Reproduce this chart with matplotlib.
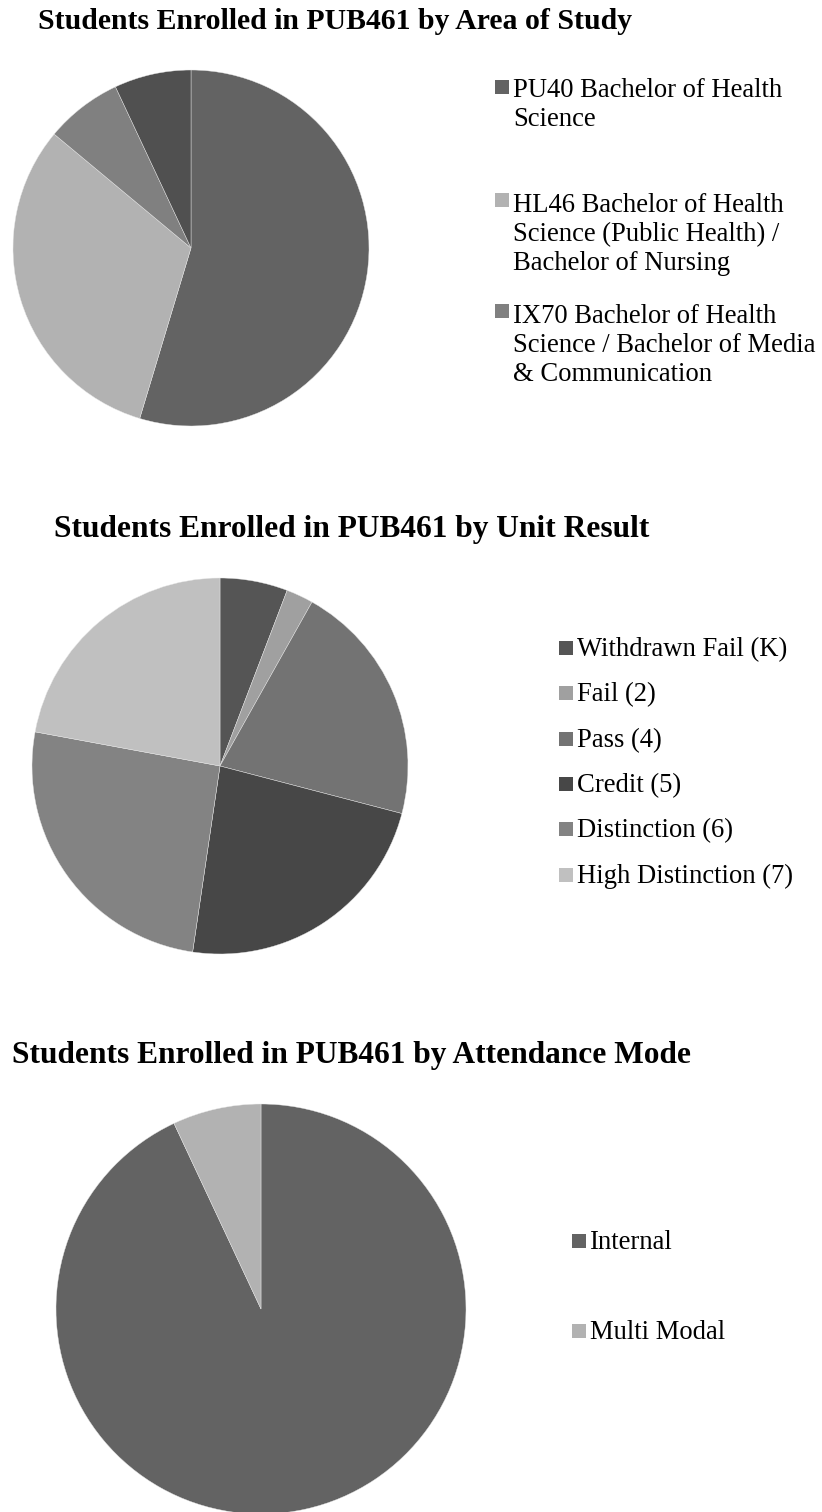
import matplotlib.pyplot as plt
from matplotlib.patches import Rectangle

W, H = 822, 1512
SERIF = "Liberation Serif"

# Area of study (student counts, last slice has no legend entry)
area_labels = ["PU40 Bachelor of Health\nScience",
               "HL46 Bachelor of Health\nScience (Public Health) /\nBachelor of Nursing",
               "IX70 Bachelor of Health\nScience / Bachelor of Media\n& Communication"]
area_counts = [47, 27, 6, 6]
area_colors = ["#636363", "#b2b2b2", "#808080", "#505050"]

# Unit result
result_labels = ["Withdrawn Fail (K)", "Fail (2)", "Pass (4)", "Credit (5)",
                 "Distinction (6)", "High Distinction (7)"]
result_counts = [5, 2, 18, 20, 22, 19]
result_colors = ["#555555", "#a0a0a0", "#737373", "#474747", "#838383", "#c0c0c0"]

# Attendance mode
mode_labels = ["Internal", "Multi Modal"]
mode_counts = [80, 6]
mode_colors = ["#636363", "#b2b2b2"]

LINE_PX = 31  # distance between wrapped legend lines


def px_box(left, top, w, h):
    return [left / W, 1 - (top + h) / H, w / W, h / H]


def draw_pie(fig, cx, cy, r, counts, colors):
    ax = fig.add_axes(px_box(cx - r, cy - r, 2 * r, 2 * r))
    ax.pie(counts, colors=colors, startangle=90, counterclock=False,
           radius=1, wedgeprops=dict(linewidth=0.3, edgecolor="#e8e8e8"))
    ax.set_xlim(-1, 1)
    ax.set_ylim(-1, 1)
    ax.set_aspect("equal")
    ax.axis("off")
    return ax


def draw_legend(fig, x, ys, labels, colors, size=19.2, box=14, gap=4):
    # ys are the centres of each entry's first line; multi-line text is
    # anchored on its last baseline, so shift down by the extra lines
    for y, lab, col in zip(ys, labels, colors):
        fig.add_artist(Rectangle((x / W, 1 - (y + box / 2 + 1) / H), box / W, box / H,
                                 transform=fig.transFigure, facecolor=col,
                                 edgecolor="none"))
        extra = lab.count("\n") * LINE_PX
        fig.text((x + box + gap) / W, 1 - (y + 9 + extra) / H, lab, fontsize=size,
                 family=SERIF, va="baseline", ha="left", linespacing=1.2)


fig = plt.figure(figsize=(W / 100, H / 100), dpi=100)
fig.patch.set_facecolor("white")

title_kw = dict(fontweight="bold", family=SERIF, ha="center", va="baseline")

fig.text(335 / W, 1 - 29 / H, "Students Enrolled in PUB461 by Area of Study",
         fontsize=21.4, **title_kw)
draw_pie(fig, 191, 248, 178, area_counts, area_colors)
draw_legend(fig, 495, [86, 199, 310], area_labels, area_colors)

fig.text(352 / W, 1 - 537 / H, "Students Enrolled in PUB461 by Unit Result",
         fontsize=22.6, **title_kw)
draw_pie(fig, 220, 766, 188, result_counts, result_colors)
draw_legend(fig, 559, [647, 692, 738, 783, 828, 874], result_labels, result_colors)

fig.text(351 / W, 1 - 1063 / H, "Students Enrolled in PUB461 by Attendance Mode",
         fontsize=22.6, **title_kw)
draw_pie(fig, 261, 1309, 205, mode_counts, mode_colors)
draw_legend(fig, 572, [1240, 1330], mode_labels, mode_colors)

fig.savefig("out.png", dpi=100, facecolor="white")
